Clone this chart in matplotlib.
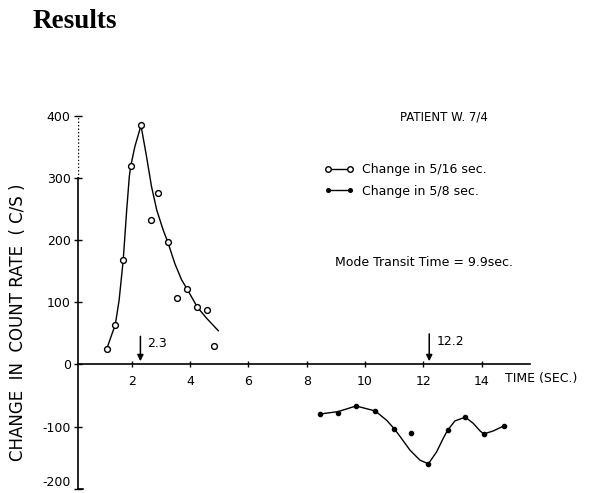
import matplotlib
matplotlib.use("Agg")
import matplotlib.pyplot as plt
from matplotlib.lines import Line2D

# Change in count rate, sampled every 5/16 s (open circles)
t_fast = [1.14, 1.44, 1.71, 1.97, 2.32, 2.67, 2.89, 3.25, 3.54, 3.90, 4.25, 4.58, 4.83]
c_fast = [24, 64, 167, 319, 384, 232, 276, 196, 107, 121, 92, 88, 29]
# hand-drawn curve through the 5/16 s readings
fit_fast_t = [1.14, 1.44, 1.57, 1.71, 1.83, 1.92, 1.97, 2.11, 2.32, 2.51, 2.68,
              2.86, 3.08, 3.25, 3.48, 3.71, 3.90, 4.25, 4.57, 4.97]
fit_fast_c = [24, 64, 103, 167, 248, 302, 319, 350, 384, 334, 286,
              248, 216, 195, 162, 136, 121, 92, 74, 54]

# Change in count rate, sampled every 5/8 s (filled dots)
t_slow = [8.45, 9.08, 9.69, 10.35, 10.99, 11.56, 12.17, 12.83, 13.44, 14.07, 14.76]
c_slow = [-80, -78, -67, -75, -104, -111, -160, -106, -85, -112, -99]
# hand-drawn curve through the 5/8 s readings
fit_slow_t = [8.45, 9.08, 9.69, 10.35, 10.74, 10.99, 11.20, 11.54, 11.88, 12.17,
              12.45, 12.68, 12.83, 13.08, 13.44, 13.71, 13.94, 14.07, 14.40, 14.76]
fit_slow_c = [-80, -76, -67, -75, -90, -103, -116, -138, -154, -160,
              -141, -119, -106, -91, -85, -95, -107, -112, -107, -99]

# peak times marked with arrows
peak_times = [2.3, 12.2]
peak_labels = ["2.3", "12.2"]

x_ticks = [2, 4, 6, 8, 10, 12, 14]
y_ticks = [-200, -100, 0, 100, 200, 300, 400]

FONT = "DejaVu Sans"
plt.rcParams["font.family"] = FONT

fig = plt.figure(figsize=(5.98, 4.93), dpi=100)
ax = fig.add_axes([0.1299, 0.0087, 0.7562, 0.7570])
ax.set_xlim(0.15, 15.65)
ax.set_ylim(-200, 400)

# axes drawn as in a hand-lettered figure
for side in ("top", "right"):
    ax.spines[side].set_visible(False)
ax.spines["left"].set_bounds(-200, 300)
ax.spines["left"].set_linewidth(1.2)
ax.spines["bottom"].set_position(("data", 0))
ax.spines["bottom"].set_linewidth(1.2)
ax.axvline(0.15, ymin=5 / 6, ymax=1, color="black", lw=1.0, ls=(0, (1, 1.5)))
ax.plot([0.15, 0.33], [-200, -200], color="black", lw=1.2, clip_on=False)

ax.set_xticks(x_ticks)
ax.set_xticklabels([str(v) for v in x_ticks])
ax.set_yticks(y_ticks)
ylabels = ax.set_yticklabels([str(v) for v in y_ticks], va="center_baseline")
ylabels[0].set_va("bottom")
ax.tick_params(axis="x", direction="inout", length=5, width=1.0, pad=5.5, labelsize=9)
ax.tick_params(axis="y", direction="inout", length=6, width=1.0, pad=2, labelsize=9)

# data and fitted curves
ax.plot(fit_fast_t, fit_fast_c, color="black", lw=1.0)
ax.plot(t_fast, c_fast, ls="none", marker="o", ms=4.2, mfc="white", mec="black", mew=1.0)
ax.plot(fit_slow_t, fit_slow_c, color="black", lw=1.0)
ax.plot(t_slow, c_slow, ls="none", marker="o", ms=3.0, mfc="black", mec="black")

# arrows at the peak times
for t, lab, top in zip(peak_times, peak_labels, [45, 49]):
    ax.annotate("", xy=(t, 5), xytext=(t, top),
                arrowprops=dict(arrowstyle="-|>", lw=1.1, color="black",
                                mutation_scale=9, shrinkA=0, shrinkB=0))
    ax.annotate(lab, xy=(t, top - 12), xytext=(5, 0), textcoords="offset points",
                ha="left", va="center", fontsize=9)

ax.text(14.8, -23, "TIME (SEC.)", ha="left", va="center", fontsize=9)

ax.set_ylabel("CHANGE  IN  COUNT RATE  ( C/S )", fontsize=12, labelpad=0)
ax.yaxis.set_label_coords(-0.111, 0.4467)

handles = [
    Line2D([], [], color="black", lw=1.0, marker="o", ms=4, mfc="white", mec="black"),
    Line2D([], [], color="black", lw=1.0, marker="o", ms=2.6, mfc="black", mec="black"),
]
ax.legend(handles, ["Change in 5/16 sec.", "Change in 5/8 sec."], frameon=False,
          loc="upper left", bbox_to_anchor=(324 / 598, (493 - 163) / 493),
          bbox_transform=fig.transFigure, fontsize=9, handlelength=2.4,
          handletextpad=0.6, labelspacing=0.7, borderpad=0, numpoints=2,
          borderaxespad=0)

fig.text(400 / 598, 1 - 117 / 493, "PATIENT W. 7/4", ha="left", va="center", fontsize=8.5)
fig.text(335 / 598, 1 - 262 / 493, "Mode Transit Time = 9.9sec.", ha="left", va="center",
         fontsize=9)

fig.text(33 / 598, 1 - 28 / 493, "Results", ha="left", va="baseline",
         fontsize=19.5, fontweight="bold", family="Liberation Serif")

fig.savefig("out.png", dpi=100)
